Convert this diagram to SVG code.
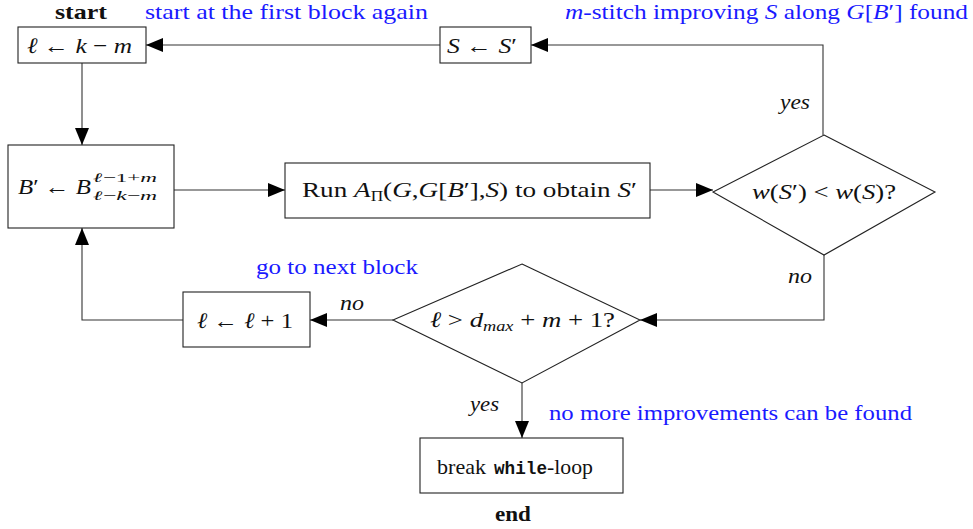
<svg xmlns="http://www.w3.org/2000/svg" width="973" height="529" viewBox="0 0 973 529">
<style>
.box{fill:#fff;stroke:#222;stroke-width:1.1}
.ln{fill:none;stroke:#333;stroke-width:1.1}
.t{font-family:"Liberation Serif","Times New Roman",serif;font-size:22px;fill:#111}
.b{font-weight:bold}
.blue{fill:#1a1aff}
.i{font-style:italic}
.mono{font-family:"Liberation Mono","DejaVu Sans Mono",monospace;font-weight:bold;font-size:19px;fill:#111}
.s{font-size:13px}
</style>
<defs>
<marker id="ah" markerUnits="userSpaceOnUse" markerWidth="18" markerHeight="14" refX="17" refY="7" orient="auto">
<path d="M0,0 L17,7 L0,14 Z" fill="#000"/>
</marker>
</defs>
<rect width="973" height="529" fill="#fff"/>
<g id="connectors">
<path class="ln" d="M440,45 H146" marker-end="url(#ah)"/>
<path class="ln" d="M823,135 V45 H531" marker-end="url(#ah)"/>
<path class="ln" d="M82,63 V145" marker-end="url(#ah)"/>
<path class="ln" d="M174,190 H285" marker-end="url(#ah)"/>
<path class="ln" d="M650,190 H713" marker-end="url(#ah)"/>
<path class="ln" d="M824,255 V320 H640" marker-end="url(#ah)"/>
<path class="ln" d="M393,320 H310" marker-end="url(#ah)"/>
<path class="ln" d="M183,320 H82 V228" marker-end="url(#ah)"/>
<path class="ln" d="M522,383 V438" marker-end="url(#ah)"/>
<text class="t i" x="780" y="109" textLength="30" lengthAdjust="spacingAndGlyphs">yes</text>
<text class="t i" x="788" y="283" textLength="24" lengthAdjust="spacingAndGlyphs">no</text>
<text class="t i" x="340" y="310" textLength="24" lengthAdjust="spacingAndGlyphs">no</text>
<text class="t i" x="470" y="411" textLength="29" lengthAdjust="spacingAndGlyphs">yes</text>
</g>
<g id="start-label"><text class="t b" x="55" y="19" textLength="52" lengthAdjust="spacingAndGlyphs">start</text></g>
<g id="end-label"><text class="t b" x="495" y="521" textLength="36" lengthAdjust="spacingAndGlyphs">end</text></g>
<g id="note1"><text class="t blue" x="145" y="19" textLength="283" lengthAdjust="spacingAndGlyphs">start at the first block again</text></g>
<g id="note2"><text class="t blue" x="565" y="19" textLength="403" lengthAdjust="spacingAndGlyphs"><tspan class="i">m</tspan>-stitch improving <tspan class="i">S</tspan> along <tspan class="i">G</tspan>[<tspan class="i">B</tspan>′] found</text></g>
<g id="note3"><text class="t blue" x="256" y="274" textLength="162" lengthAdjust="spacingAndGlyphs">go to next block</text></g>
<g id="note4"><text class="t blue" x="549" y="420" textLength="363" lengthAdjust="spacingAndGlyphs">no more improvements can be found</text></g>
<g id="init">
<rect class="box" x="18" y="27" width="128" height="36"/>
<text class="t" x="27" y="53" textLength="105" lengthAdjust="spacingAndGlyphs"><tspan class="i">ℓ</tspan> ← <tspan class="i">k</tspan> − <tspan class="i">m</tspan></text>
</g>
<g id="update">
<rect class="box" x="440" y="27" width="91" height="36"/>
<text class="t" x="447" y="53" textLength="70" lengthAdjust="spacingAndGlyphs"><tspan class="i">S</tspan> ← <tspan class="i">S</tspan>′</text>
</g>
<g id="block">
<rect class="box" x="8" y="145" width="166" height="83"/>
<text class="t" x="18" y="194" textLength="73" lengthAdjust="spacingAndGlyphs"><tspan class="i">B</tspan>′ ← <tspan class="i">B</tspan></text>
<text class="t s" x="93" y="182" textLength="64" lengthAdjust="spacingAndGlyphs"><tspan class="i">ℓ</tspan>−1+<tspan class="i">m</tspan></text>
<text class="t s" x="93" y="200" textLength="64" lengthAdjust="spacingAndGlyphs"><tspan class="i">ℓ</tspan>−<tspan class="i">k</tspan>−<tspan class="i">m</tspan></text>
</g>
<g id="run">
<rect class="box" x="285" y="163" width="365" height="55"/>
<text class="t" x="302" y="197" textLength="335" lengthAdjust="spacingAndGlyphs">Run <tspan class="i">A</tspan><tspan font-size="14" dy="4">Π</tspan><tspan dy="-4">(</tspan><tspan class="i">G</tspan>,<tspan class="i">G</tspan>[<tspan class="i">B</tspan>′],<tspan class="i">S</tspan>) to obtain <tspan class="i">S</tspan>′</text>
</g>
<g id="cond1">
<path class="box" d="M824,135 L935,192 L824,255 L713,192 Z"/>
<text class="t" x="752" y="199" textLength="144" lengthAdjust="spacingAndGlyphs"><tspan class="i">w</tspan>(<tspan class="i">S</tspan>′) &lt; <tspan class="i">w</tspan>(<tspan class="i">S</tspan>)?</text>
</g>
<g id="cond2">
<path class="box" d="M522,264 L640,320 L522,383 L393,320 Z"/>
<text class="t" x="430" y="327" textLength="185" lengthAdjust="spacingAndGlyphs"><tspan class="i">ℓ</tspan> &gt; <tspan class="i">d</tspan><tspan class="i" font-size="15" dy="4">max</tspan><tspan dy="-4"> + </tspan><tspan class="i">m</tspan> + 1?</text>
</g>
<g id="next">
<rect class="box" x="183" y="292" width="127" height="55"/>
<text class="t" x="197" y="328" textLength="96" lengthAdjust="spacingAndGlyphs"><tspan class="i">ℓ</tspan> ← <tspan class="i">ℓ</tspan> + 1</text>
</g>
<g id="break">
<rect class="box" x="420" y="438" width="203" height="55"/>
<text class="t" x="437" y="474" textLength="49" lengthAdjust="spacingAndGlyphs">break</text>
<text class="mono" x="494" y="474" textLength="53" lengthAdjust="spacingAndGlyphs">while</text>
<text class="t" x="547" y="474" textLength="46" lengthAdjust="spacingAndGlyphs">-loop</text>
</g>
</svg>
